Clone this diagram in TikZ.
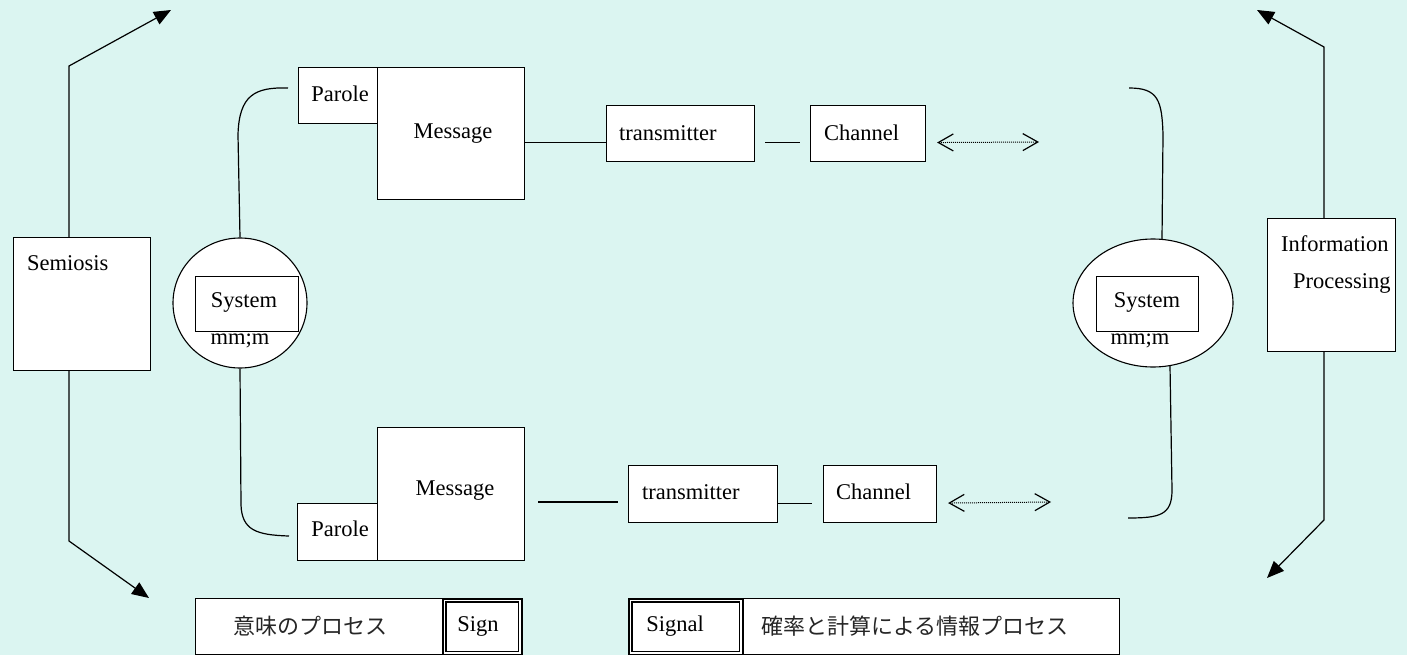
\documentclass[tikz,border=0pt]{standalone}
\usepackage{fontspec}
\setmainfont{Liberation Serif}
\newfontfamily\cjk{Noto Sans CJK JP}
\usetikzlibrary{arrows.meta,shapes.geometric}
\definecolor{bg}{HTML}{DBF5F1}
\begin{document}
\begin{tikzpicture}[x=1pt,y=-1pt,
  box/.style={draw, fill=white, line width=1.1pt, inner sep=0pt, anchor=north west},
  dbox/.style={draw, fill=white, line width=1.6pt, inner sep=0pt, anchor=north west},
  inner/.style={line width=1.3pt},
  ell/.style={draw, fill=white, ellipse, line width=1.1pt, inner sep=0pt},
  txt/.style={inner sep=0pt, font=\fontsize{22.5}{27}\selectfont},
  ltxt/.style={txt, anchor=west},
  jtxt/.style={inner sep=0pt, font=\cjk\fontsize{22}{26}\selectfont, text=black!85},
  conn/.style={line width=1.1pt},
  bigarrow/.style={line width=1.2pt, -{Triangle[length=17pt,width=14pt]}},
  dblarrow/.style={line width=1pt, densely dotted, {Straight Barb[length=15pt,width=17pt,line width=1.2pt,sharp]}-{Straight Barb[length=15pt,width=17pt,line width=1.2pt,sharp]}},
  brace/.style={line width=1.2pt}
]
\useasboundingbox (0,0) rectangle (1407,655);
\fill[bg] (0,0) rectangle (1407,655);

% ---------- left side: Semiosis ----------
\node[box, minimum width=137pt, minimum height=133pt] (sem) at (13,237) {};
\node[ltxt] (semt) at (27,263) {Semiosis};
\coordinate (lc1) at (69,66);
\coordinate (lt1) at (171,10);
\coordinate (lc2) at (69,541);
\coordinate (lt2) at (149,598);
\draw[bigarrow] (sem.north -| lc1) -- (lc1) -- (lt1);
\draw[bigarrow] (sem.south -| lc2) -- (lc2) -- (lt2);

% ---------- right side: Information Processing ----------
\node[box, minimum width=128pt, minimum height=133pt] (inf) at (1267,218) {};
\node[ltxt] (inft1) at (1281,244) {Information};
\node[ltxt] (inft2) at (1293,283) {Processing};
\coordinate (rc1) at (1324,47);
\coordinate (rt1) at (1257,10);
\coordinate (rc2) at (1324,520);
\coordinate (rt2) at (1267,578);
\draw[bigarrow] (inf.north -| rc1) -- (rc1) -- (rt1);
\draw[bigarrow] (inf.south -| rc2) -- (rc2) -- (rt2);

% ---------- ellipses with System ----------
\node[ell, minimum width=134pt, minimum height=130pt] (le) at (240,303) {};
\node[box, minimum width=103pt, minimum height=55pt] (lsys) at (195,276) {};
\node[txt] (lsyst) at (244,302) {System};
\node[txt] (lmm) at (240,341) {mm;m};

\node[ell, minimum width=160pt, minimum height=128pt] (re) at (1153,303) {};
\node[box, minimum width=102pt, minimum height=55pt] (rsys) at (1096,276) {};
\node[txt] (rsyst) at (1147,302) {System};
\node[txt] (rmm) at (1140,341) {mm;m};

% ---------- top row ----------
\node[box, minimum width=79pt, minimum height=56pt] (p1) at (298,67) {};
\node[txt] (p1t) at (340,94) {Parole};
\node[box, minimum width=147pt, minimum height=132pt] (m1) at (377,67) {};
\node[txt] (m1t) at (453,134) {Message};
\node[box, minimum width=148pt, minimum height=56pt] (t1) at (606,105) {};
\node[ltxt] (t1t) at (619,133) {transmitter};
\node[box, minimum width=115pt, minimum height=56pt] (c1) at (810,105) {};
\node[ltxt] (c1t) at (824,133) {Channel};
\draw[conn] ([yshift=-9pt]m1.east) -- ([yshift=-9pt]t1.west);
\draw[conn] ([shift={(10pt,-9pt)}]t1.east) -- ([shift={(-10pt,-9pt)}]c1.west);
\coordinate (a1) at (1039,142);
\draw[dblarrow] ([shift={(11pt,-9pt)}]c1.east) -- (a1);

% ---------- bottom row ----------
\node[box, minimum width=80pt, minimum height=57pt] (p2) at (297,503) {};
\node[txt] (p2t) at (340,529) {Parole};
\node[box, minimum width=147pt, minimum height=133pt] (m2) at (377,427) {};
\node[txt] (m2t) at (455,491) {Message};
\node[box, minimum width=149pt, minimum height=57pt] (t2) at (628,465) {};
\node[ltxt] (t2t) at (642,492) {transmitter};
\node[box, minimum width=113pt, minimum height=57pt] (c2) at (823,465) {};
\node[ltxt] (c2t) at (836,492) {Channel};
\coordinate (l2s) at (538,502);
\draw[conn] (l2s) -- ([xshift=-10pt]t2.west |- l2s);
\draw[conn] ([yshift=-9pt]t2.east) -- ([shift={(-11pt,-9pt)}]c2.west);
\coordinate (a2) at (1051,502);
\draw[dblarrow] ([shift={(11pt,-9pt)}]c2.east) -- (a2);

% ---------- brackets ----------
\coordinate (lb1) at (288,88);
\coordinate (lb2) at (289,536);
\draw[brace] (lb1) .. controls (255,87) and (239,95) .. (238,135) -- (le.north);
\draw[brace] (le.south) -- (241,505) .. controls (242,530) and (256,535) .. (lb2);
\coordinate (rb1) at (1129,88);
\coordinate (rb2) at (1128,518);
\coordinate (retop) at (1162,239);
\coordinate (rebot) at (1170,366);
\draw[brace] (rb1) .. controls (1158,88) and (1162,100) .. (1163,135) -- (retop);
\draw[brace] (rebot) -- (1172,490) .. controls (1172,515) and (1160,518) .. (rb2);

% ---------- legend ----------
\node[box, minimum width=326pt, minimum height=56pt] (lg1) at (195,598) {};
\node[jtxt] (lg1t) at (310,626) {意味のプロセス};
\node[dbox, minimum width=79pt, minimum height=56pt] (sign) at (442,598) {};
\draw[inner] ([shift={(4pt,-4pt)}]sign.north west) rectangle ([shift={(-4pt,4pt)}]sign.south east);
\node[txt] (signt) at (478,626) {Sign};
\node[box, minimum width=491pt, minimum height=56pt] (lg2) at (628,598) {};
\node[jtxt] (lg2t) at (915,626) {確率と計算による情報プロセス};
\node[dbox, minimum width=114pt, minimum height=56pt] (sgnl) at (628,598) {};
\draw[inner] ([shift={(4pt,-4pt)}]sgnl.north west) rectangle ([shift={(-4pt,4pt)}]sgnl.south east);
\node[txt] (sgnlt) at (675,626) {Signal};
\end{tikzpicture}
\end{document}
